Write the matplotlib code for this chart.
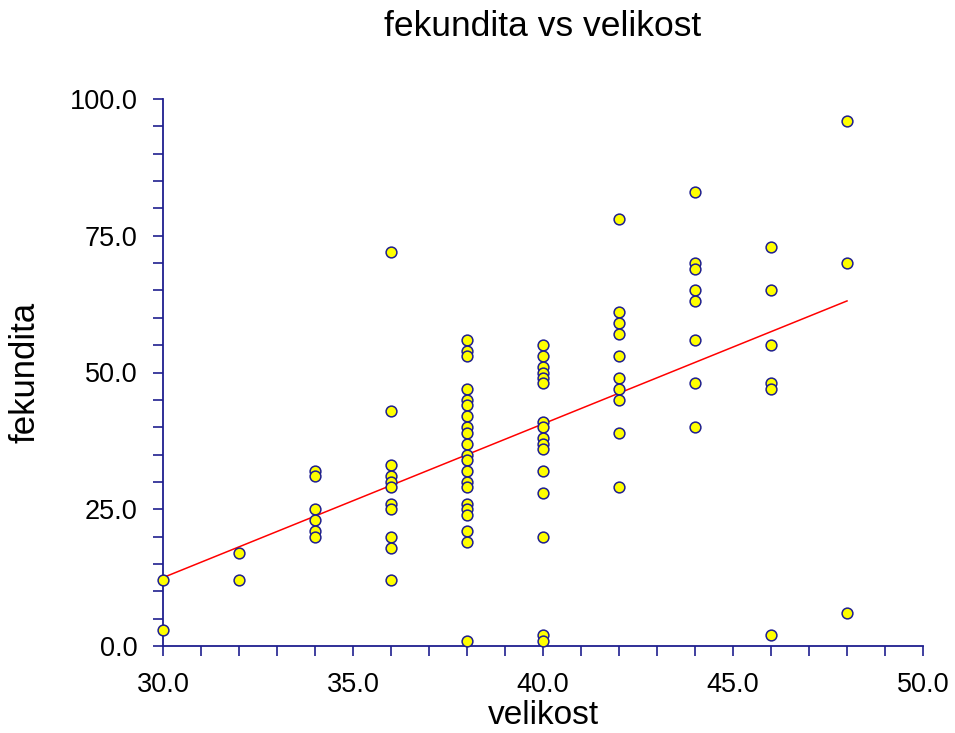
import matplotlib
matplotlib.use("Agg")
import matplotlib.pyplot as plt
from matplotlib.ticker import MultipleLocator, FormatStrFormatter
import numpy as np

plt.rcParams["font.family"] = ["Liberation Sans", "DejaVu Sans"]

AXIS_COLOR = "#1f1f8f"

# velikost -> list of fekundita values observed at that size
velikost_groups = [30, 32, 34, 36, 38, 40, 42, 44, 46, 48]
fekundita_groups = [
    [12, 3],
    [17, 12],
    [32, 31, 25, 23, 21, 20],
    [72, 43, 33, 31, 30, 29, 26, 25, 20, 18, 12],
    [56, 54, 53, 47, 45, 44, 42, 40, 39, 37, 35, 34, 32, 30, 29, 26, 25, 24, 21, 19, 1],
    [55, 53, 51, 50, 49, 48, 41, 40, 38, 37, 36, 32, 28, 20, 2, 1],
    [78, 61, 59, 57, 53, 49, 47, 45, 39, 29],
    [83, 70, 69, 65, 63, 56, 48, 40],
    [73, 65, 55, 48, 47, 2],
    [96, 70, 6],
]

velikost = np.concatenate([[v] * len(f) for v, f in zip(velikost_groups, fekundita_groups)])
fekundita = np.concatenate(fekundita_groups)

W, H = 955, 733
fig = plt.figure(figsize=(W / 100, H / 100), dpi=100, facecolor="white")
ax = fig.add_axes([163 / W, 1 - 646 / H, (923 - 163) / W, (646 - 99) / H])

# least-squares line over the observed size range
slope, intercept = np.polyfit(velikost, fekundita, 1)
xs = np.array([velikost.min(), velikost.max()])
ax.plot(xs, intercept + slope * xs, color="red", lw=1.1, zorder=2)

ax.scatter(velikost, fekundita, s=60, facecolor="yellow", edgecolor=AXIS_COLOR,
           linewidths=1.1, zorder=3, clip_on=False)

ax.set_xlim(30, 50)
ax.set_ylim(0, 100)
ax.xaxis.set_major_locator(MultipleLocator(5))
ax.xaxis.set_minor_locator(MultipleLocator(1))
ax.yaxis.set_major_locator(MultipleLocator(25))
ax.yaxis.set_minor_locator(MultipleLocator(5))
ax.xaxis.set_major_formatter(FormatStrFormatter("%.1f"))
ax.yaxis.set_major_formatter(FormatStrFormatter("%.1f"))

for side in ("top", "right"):
    ax.spines[side].set_visible(False)
for side in ("left", "bottom"):
    ax.spines[side].set_color(AXIS_COLOR)
    ax.spines[side].set_linewidth(1.3)

ax.tick_params(which="both", direction="out", length=7.5, width=1.2, color=AXIS_COLOR,
               labelsize=19.5, labelcolor="black")
ax.tick_params(axis="y", which="major", pad=11)
ax.tick_params(axis="x", which="major", pad=11)

ax.set_xlabel("velikost", fontsize=24, va="center")
ax.xaxis.set_label_coords(0.5, (646 - 716) / 547)
ax.set_ylabel("fekundita", fontsize=25, va="center")
ax.yaxis.set_label_coords((25 - 163) / 760, 0.5)
fig.text(0.5 * (163 + 923) / W, 1 - 27 / H, "fekundita vs velikost",
         ha="center", va="center", fontsize=25.5)

fig.savefig("out.png", dpi=100, facecolor="white")
